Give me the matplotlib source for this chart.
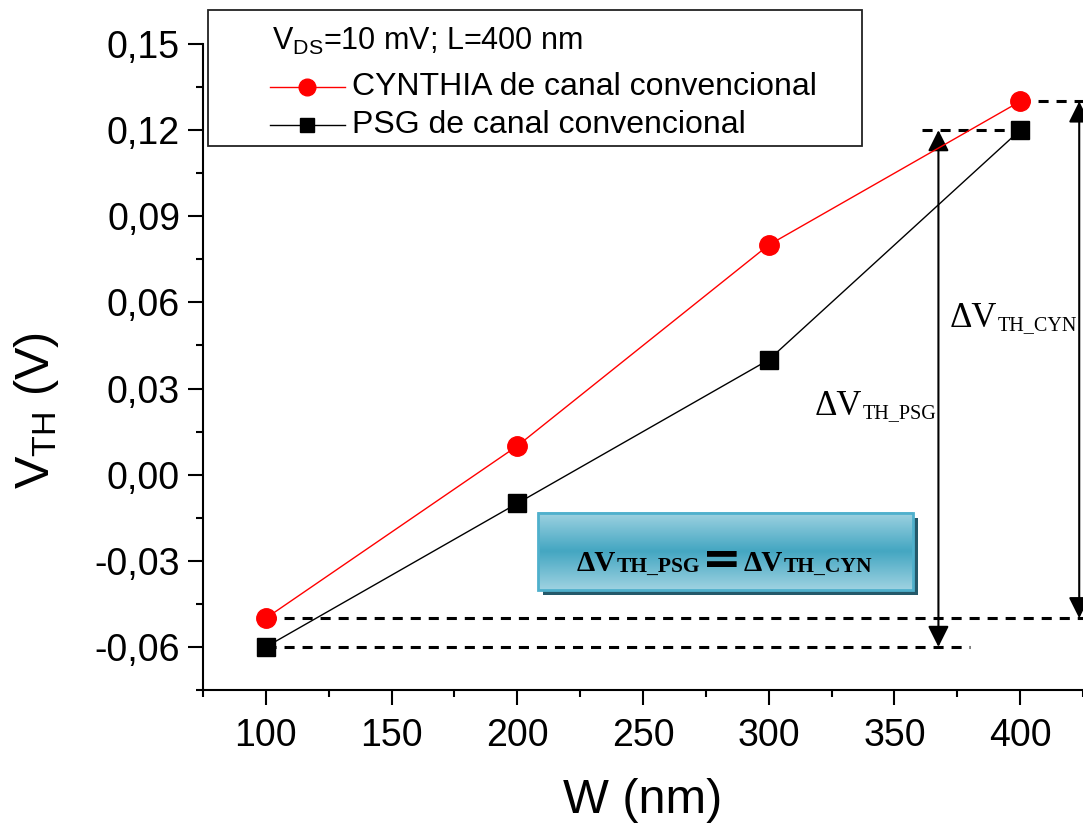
import numpy as np
import matplotlib
matplotlib.use("Agg")
import matplotlib.pyplot as plt
from matplotlib.patches import Rectangle
from matplotlib.lines import Line2D
from matplotlib.ticker import MultipleLocator, FuncFormatter

# datos
w_nm = [100, 200, 300, 400]
vth_cynthia = [-0.05, 0.01, 0.08, 0.13]
vth_psg = [-0.06, -0.01, 0.04, 0.12]
x_ticks = [100, 150, 200, 250, 300, 350, 400]
y_ticks = [-0.06, -0.03, 0.00, 0.03, 0.06, 0.09, 0.12, 0.15]

plt.rcParams['font.family'] = ['Liberation Sans', 'DejaVu Sans']
plt.rcParams['mathtext.fontset'] = 'custom'
plt.rcParams['mathtext.rm'] = 'Liberation Sans'
plt.rcParams['mathtext.it'] = 'Liberation Sans:italic'
plt.rcParams['mathtext.bf'] = 'Liberation Sans:bold'
serif = ['Liberation Serif', 'DejaVu Serif']

fig = plt.figure(figsize=(10.83, 8.30), dpi=100)
ax = fig.add_axes([203 / 1083, 1 - 690 / 830, 880 / 1083, 646 / 830])


def px(x, y):
    # pixel de la imagen -> coordenadas de datos
    return 75 + (x - 203) / 880 * 350, 0.15 - (y - 44) / 646 * 0.225


def sub_after(t, s, size, bold=False):
    return ax.annotate(s, xy=(1, 0), xycoords=t, fontsize=size, family=serif,
                       weight='bold' if bold else 'normal', ha='left', va='bottom',
                       zorder=t.get_zorder(), annotation_clip=False)


ax.plot(w_nm, vth_cynthia, color='red', lw=1.0, marker='o', ms=14,
        mec='red', mfc='red', zorder=4, clip_on=False)
ax.plot(w_nm, vth_psg, color='black', lw=1.0, marker='s', ms=12.5,
        mec='black', mfc='black', zorder=4, clip_on=False)

ax.set_xlim(75, 425)
ax.set_ylim(-0.075, 0.15)
ax.set_xticks(x_ticks)
ax.set_yticks(y_ticks)
ax.xaxis.set_minor_locator(MultipleLocator(25))
ax.yaxis.set_minor_locator(MultipleLocator(0.015))
ax.yaxis.set_major_formatter(FuncFormatter(lambda v, p: f'{round(v, 2):.2f}'.replace('.', ',').replace('-0,00', '0,00')))
ax.tick_params(which='major', direction='out', length=10.5, width=1.5, labelsize=27, pad=6)
ax.tick_params(which='minor', direction='out', length=5, width=1.5)
ax.tick_params(axis='x', which='major', pad=10)
for s in ['top', 'right']:
    ax.spines[s].set_visible(False)
for s in ['left', 'bottom']:
    ax.spines[s].set_linewidth(1.5)

ax.set_xlabel('W (nm)', fontsize=35, labelpad=17)
ax.set_ylabel(r'V$_{\mathrm{TH}}$ (V)', fontsize=35)
ax.yaxis.set_label_coords(-0.161, 0.433)

# lineas discontinuas de referencia
dash = (0, (3.3, 2.6))
ax.plot([100, 425], [-0.05, -0.05], color='black', lw=2.2, ls=dash, zorder=3, clip_on=False)
ax.plot([100, 380], [-0.06, -0.06], color='black', lw=2.2, ls=dash, zorder=3)
ax.plot([400, 425], [0.13, 0.13], color='black', lw=2.2, ls=dash, zorder=3, clip_on=False)
ax.plot([361, 400], [0.12, 0.12], color='black', lw=2.2, ls=dash, zorder=3)

# flechas dobles
arrow = dict(arrowstyle='<|-|>', mutation_scale=32, lw=1.5, color='black',
             shrinkA=0, shrinkB=0)
ax.annotate('', xy=(367.5, -0.06), xytext=(367.5, 0.12), arrowprops=arrow, annotation_clip=False)
ax.annotate('', xy=(423.5, -0.05), xytext=(423.5, 0.13), arrowprops=arrow, annotation_clip=False)

t = ax.text(*px(815, 415), '\u0394V', fontsize=25, family=serif, ha='left', va='baseline')
sub_after(t, 'TH_PSG', 14.5)
t = ax.text(*px(950, 327), '\u0394V', fontsize=25, family=serif, ha='left', va='baseline')
sub_after(t, 'TH_CYN', 14.5)

# recuadro con degradado
bx0, by1 = px(538, 513)
bx1, by0 = px(913, 590)
sx, sy = px(543, 518)
ax.add_patch(Rectangle((bx0 + (sx - bx0), by0 + (sy - by1)), bx1 - bx0, by1 - by0,
                       facecolor='#24596a', edgecolor='none', zorder=5))
grad = np.abs(np.linspace(-1, 1, 64)).reshape(-1, 1)
ax.imshow(grad, extent=(bx0, bx1, by0, by1), aspect='auto', zorder=6,
          cmap=matplotlib.colors.LinearSegmentedColormap.from_list('teal', ['#45a7c2', '#9ed2e1']),
          interpolation='bilinear')
ax.add_patch(Rectangle((bx0, by0), bx1 - bx0, by1 - by0, facecolor='none',
                       edgecolor='#4fb0cc', lw=2, zorder=7))
t = ax.text(*px(577, 571), '\u0394V', fontsize=21, family=serif, weight='bold',
            ha='left', va='baseline', zorder=8)
sub_after(t, 'TH_PSG', 15.5, bold=True)
ax.text(*px(722, 561), '=', fontsize=34, family='DejaVu Sans', weight='bold',
        ha='center', va='center', zorder=8)
t = ax.text(*px(744, 571), '\u0394V', fontsize=21, family=serif, weight='bold',
            ha='left', va='baseline', zorder=8)
sub_after(t, 'TH_CYN', 15.5, bold=True)
ax.set_xlim(75, 425)
ax.set_ylim(-0.075, 0.15)

# leyenda dibujada a mano
ax.add_patch(Rectangle((0.0057, 0.842), 0.743, 0.2106, transform=ax.transAxes,
                       facecolor='white', edgecolor='#222222', lw=1.3, clip_on=False, zorder=9))
ax.text(0.078, 1.0045, r'V$_{\mathrm{DS}}$=10 mV; L=400 nm', transform=ax.transAxes,
        fontsize=22, ha='left', va='center', zorder=10)
ax.add_line(Line2D([0.076, 0.161], [0.9334, 0.9334], transform=ax.transAxes, color='red',
                   lw=1.0, clip_on=False, zorder=10))
ax.add_line(Line2D([0.1185], [0.9334], transform=ax.transAxes, color='red', marker='o', ms=12,
                   clip_on=False, zorder=10))
ax.add_line(Line2D([0.076, 0.161], [0.8746, 0.8746], transform=ax.transAxes, color='black',
                   lw=1.0, clip_on=False, zorder=10))
ax.add_line(Line2D([0.1185], [0.8746], transform=ax.transAxes, color='black', marker='s', ms=10,
                   clip_on=False, zorder=10))
ax.text(0.169, 0.9334, 'CYNTHIA de canal convencional', transform=ax.transAxes,
        fontsize=23, ha='left', va='center', zorder=10)
ax.text(0.169, 0.8746, 'PSG de canal convencional', transform=ax.transAxes,
        fontsize=23, ha='left', va='center', zorder=10)

fig.savefig('out.png', dpi=100)
